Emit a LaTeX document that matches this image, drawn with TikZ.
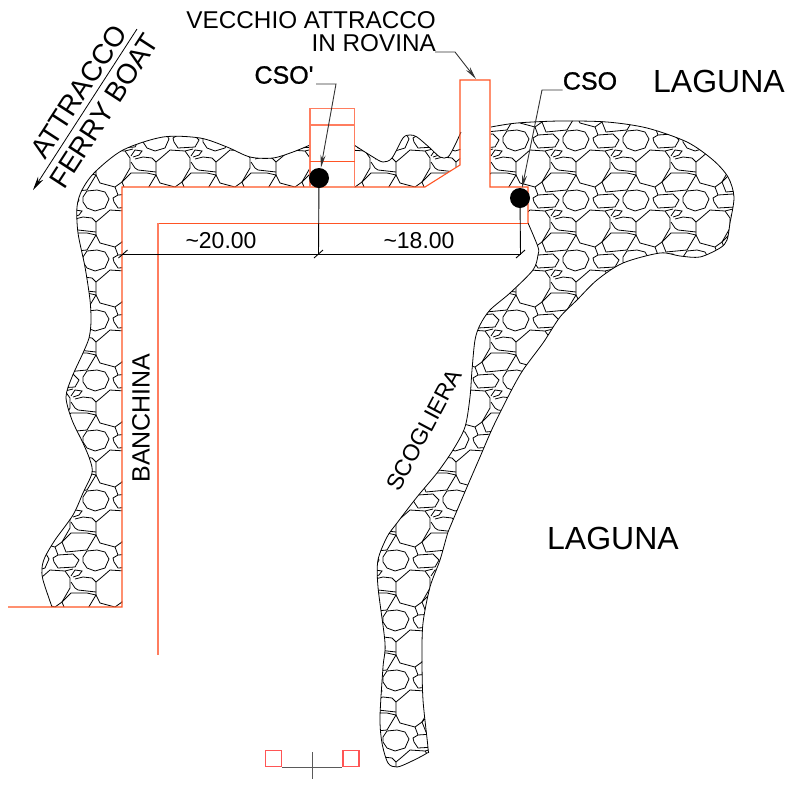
\documentclass[tikz,border=0pt]{standalone}
\usepackage{fontspec}
\setmainfont{Liberation Sans}
\newfontfamily\csofont[FakeBold=1]{Liberation Sans}
\usetikzlibrary{arrows.meta}

\definecolor{muro}{RGB}{255,84,36}
\definecolor{murochiaro}{RGB}{255,125,95}
\definecolor{quadro}{RGB}{255,85,85}
\definecolor{asse}{RGB}{90,90,90}

\tikzset{
  roccia/.style={black,line width=.8pt},
  banchina/.style={muro,line width=1.1pt},
  pontile/.style={murochiaro,line width=1.3pt},
  leader/.style={black!80,line width=.9pt},
  quota/.style={black,line width=.9pt},
  pozzo/.style={circle,fill=black,inner sep=0pt,minimum size=20pt},
  testo/.style={inner sep=0pt,text=black,font=\fontsize{#1}{#1}\selectfont},
  cso/.style={inner sep=0pt,text=black,font=\csofont\fontsize{#1}{#1}\selectfont}
}

% contours of the rock fill
\newcommand\rivaA{plot[smooth,tension=.5] coordinates {(52,607) (43,580) (42,568) (45,557) (55,540) (73,515) (83,493) (92,473) (90,460) (83,443) (72,420) (66,397) (72,377) (83,353) (89,338) (91,322) (90,300) (85,267) (78,233) (77,207) (82,190) (95,172) (123,150) (163,137) (200,138) (227,147) (250,157) (273,158) (293,152) (310,145)}}
\newcommand\rivaB{plot[smooth,tension=.5] coordinates {(354,145) (373,157) (383,162) (392,158) (403,138) (410,135) (417,137) (430,148) (440,157) (448,157) (455,145) (461,132)}}
\newcommand\rivaC{plot[smooth,tension=.5] coordinates {(491,127) (517,123) (560,121) (607,122) (647,128) (687,142) (713,160) (728,177) (734,197) (730,223) (727,240) (720,248) (700,257) (680,256) (660,253) (623,263) (597,280) (577,300) (560,317) (543,343) (523,370) (510,393) (493,427) (480,457) (467,487) (453,520) (448,532) (440,560) (430,587) (423,623) (422,657) (423,700) (428,748) (427,753) (410,762) (397,767) (388,763) (382,743) (380,717) (383,667) (385,643) (378,587) (378,560) (387,537) (397,523) (417,497) (437,473) (453,450) (465,427) (470,397) (472,370) (475,340) (480,325) (490,310) (510,293) (533,270) (538,255) (538,247) (528,223)}}

% one 60 x 60 cell of the rock hatch
\newcommand\cellaroccia{
  \draw[roccia] (3,12) -- (7,6) -- (17,5) -- (25,7) -- (29,14) -- (25,23) -- (15,26) -- (7,23) -- (3,17) -- cycle;
  \draw[roccia] (33,13) -- (38,10) -- (53,9) -- (59,15) -- (55,22) -- (38,23) -- (34,17) -- cycle;
  \draw[roccia] (16,37) -- (22,32) -- (30,25) -- (45,26) -- (50,33) -- (50,43) -- (42,57) -- (35,62) -- (20,58) -- (16,50) -- cycle;
  \draw[roccia] (51,31) -- (55,25) -- (62,26) -- (59,30) -- (53,32);
  \draw[roccia] (51,37) -- (55,43) -- (58,45) -- (76,47);
  \draw[roccia] (55,34) -- (63,32) -- (72,33) -- (76,37);
  \draw[roccia] (42,57) -- (51,48) -- (67,48) -- (76,50) -- (67,65) -- (46,67) -- cycle;
  \draw[roccia] (45,26) -- (53,24);
  \draw[roccia] (35,62) -- (38,70);
}

\begin{document}
\begin{tikzpicture}[x=1pt,y=-1pt]
  \useasboundingbox (0,0) rectangle (788,788);

  \begin{scope}
    \clip \rivaA -- (310,187) -- (122,187) -- (122,607) -- cycle
          \rivaB -- (460,165) -- (425,187) -- (354,187) -- cycle
          \rivaC -- (528,187) -- (490,187) -- cycle;
    \foreach \tx in {-40,20,...,740}
      \foreach \ty in {5,65,...,785}
        \begin{scope}[shift={(\tx,\ty)}]
          \cellaroccia
        \end{scope};
  \end{scope}
  \draw[roccia] \rivaA;
  \draw[roccia] \rivaB;
  \draw[roccia] \rivaC;

  % quay
  \draw[banchina] (8,607) -- (122,607) -- (122,187) -- (425,187) -- (460,165) -- (460,80) -- (490,80) -- (490,187) -- (528,187) -- (528,223);
  \draw[banchina,line width=.8pt] (528,223) -- (158,223);
  \draw[pontile] (158,223) -- (158,655);

  % old jetty
  \draw[pontile] (310,187) -- (310,108.5) -- (354.5,108.5) -- (354.5,187);
  \draw[pontile] (310,125) -- (354.5,125);
  \draw[banchina,line width=.7pt] (310,161.5) -- (354.5,161.5);

  \node[pozzo] (csoA) at (319,178){};
  \node[pozzo] (csoB) at (520,198){};

  % dimensions
  \coordinate (dimA) at (123,254);
  \coordinate (dimB) at (318.5,254);
  \coordinate (dimC) at (520.5,254);
  \draw[quota] (dimA) -- (dimC);
  \draw[quota] (csoA) -- (dimB);
  \draw[quota] (csoB) -- (dimC);
  \foreach \q in {dimA,dimB,dimC}
    \draw[quota] ([shift={(-4.5,4)}]\q) -- ([shift={(4.5,-4)}]\q);

  \node[testo=23] (quotaA) at (221,241){\symbol{"7E}20.00};
  \node[testo=23] (quotaB) at (419,241){\symbol{"7E}18.00};

  % labels
  \node[testo=24.3,align=right,anchor=north east] (vecchio) at (436,11){VECCHIO ATTRACCO\\[-.5pt]IN ROVINA};
  \node[cso=25] (csoprimo) at (284,75){CSO'};
  \node[cso=25] (csolab) at (590,81){CSO};
  \node[testo=32] (lagunaA) at (719,81){LAGUNA};
  \node[testo=32] (lagunaB) at (613,538){LAGUNA};
  \node[testo=25,rotate=90] (banch) at (141,418){BANCHINA};
  \node[testo=23,rotate=62] (scogl) at (424,430){SCOGLIERA};
  \node[testo=28,rotate=57] (attracco) at (78.5,92){ATTRACCO};
  \node[testo=28,rotate=57] (ferry) at (104,111){FERRY BOAT};

  % leaders
  \coordinate (ginA) at (336,84);
  \coordinate (ginB) at (542,90);
  \coordinate (ginC) at (455,52);
  \coordinate (punta) at (476,79);
  \draw[leader,-{Stealth[length=13pt,width=5pt]}] (316,84) -- (ginA) -- (csoA);
  \draw[leader,-{Stealth[length=13pt,width=5pt]}] (csolab.south west |- ginB) -- (ginB) -- (csoB);
  \draw[leader,-{Stealth[length=13pt,width=5pt]}] (435,52) -- (ginC) -- (punta);

  % ferry direction
  \coordinate (dirA) at (137,29);
  \coordinate (dirB) at (33,190);
  \draw[black,line width=.8pt,-{Stealth[length=14pt,width=6pt]}] (dirA) -- (dirB);

  % section mark
  \node[draw=quadro,line width=1.3pt,minimum size=16pt,inner sep=0pt] (sezA) at (273.5,758.5){};
  \node[draw=quadro,line width=1.3pt,minimum size=16pt,inner sep=0pt] (sezB) at (351,758.5){};
  \draw[asse,line width=.9pt] (sezA.south east) -- (sezB.south west);
  \draw[asse,line width=.9pt] (312,752) -- (312,779);
\end{tikzpicture}
\end{document}
